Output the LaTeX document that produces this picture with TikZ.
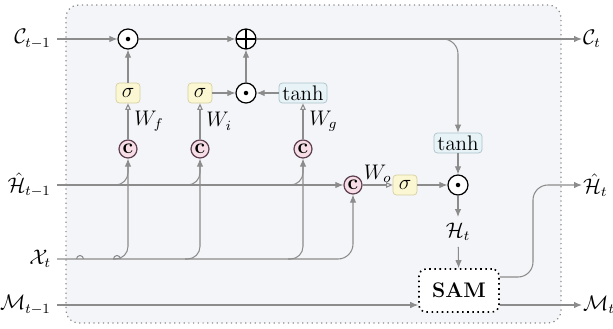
\documentclass[tikz,border=0pt]{standalone}
\usepackage{amsmath}
\usepackage{amssymb}
\usepackage{xcolor}
\usetikzlibrary{arrows.meta}
\usetikzlibrary{calc}

\definecolor{linegray}{HTML}{8C8C8C}
\definecolor{cellbg}{HTML}{F4F5F8}
\definecolor{sigfill}{HTML}{FBF7D2}
\definecolor{sigdraw}{HTML}{D6CFA0}
\definecolor{tanhfill}{HTML}{E7F3F7}
\definecolor{tanhdraw}{HTML}{A9C3CB}
\definecolor{catfill}{HTML}{F6DDE6}
\definecolor{catdraw}{HTML}{5E4050}

\tikzset{
  wire/.style={draw=linegray, line width=0.6pt},
  sigbox/.style={draw=sigdraw, fill=sigfill, rounded corners=2pt,
    minimum width=0.48cm, minimum height=0.4cm, inner sep=1pt, font=\large},
  tanhbox/.style={draw=tanhdraw, fill=tanhfill, rounded corners=2pt,
    minimum width=0.96cm, minimum height=0.4cm, inner sep=1pt, font=\large},
  catnode/.style={circle, draw=catdraw, fill=catfill, line width=0.7pt,
    minimum size=0.36cm, inner sep=0pt, font=\large\bfseries},
  mulnode/.style={circle, draw, fill=white, line width=0.7pt,
    minimum size=0.4cm, inner sep=0pt,
    path picture={\fill[black] (path picture bounding box.center) circle (0.045);}},
  addnode/.style={circle, draw, fill=white, line width=0.7pt,
    minimum size=0.4cm, inner sep=0pt,
    path picture={
      \draw[black] (path picture bounding box.north) -- (path picture bounding box.south);
      \draw[black] (path picture bounding box.west) -- (path picture bounding box.east);}},
}

\begin{document}
\begin{tikzpicture}[
    >={Latex[length=1.6mm,width=1.3mm]},
    openarr/.style={-{Triangle[open,length=1.3mm,width=1.1mm]}},
  ]
    \useasboundingbox (0,0) rectangle (12.26,-6.58);
    \draw[linegray, dotted, line width=0.7pt, fill=cellbg, rounded corners=0.25cm]
      (1.32,-0.10) rectangle (11.22,-6.46);

    % inputs and outputs
    \node[anchor=east, font=\large] (cprev) at (1.14,-0.78) {$\mathcal{C}_{t-1}$};
    \node[anchor=east, font=\large] (hprev) at (1.14,-3.70) {$\hat{\mathcal{H}}_{t-1}$};
    \node[anchor=east, font=\large] (xt) at (1.14,-5.18) {$\mathcal{X}_{t}$};
    \node[anchor=east, font=\large] (mprev) at (1.14,-6.10) {$\mathcal{M}_{t-1}$};
    \node[anchor=west, font=\large, inner sep=0.5pt] (ct) at (11.64,-0.78) {$\mathcal{C}_{t}$};
    \node[anchor=west, font=\large, inner sep=0.5pt] (hhat) at (11.64,-3.70) {$\hat{\mathcal{H}}_{t}$};
    \node[anchor=west, font=\large, inner sep=0.5pt] (mt) at (11.64,-6.10) {$\mathcal{M}_{t}$};

    % gates
    \node[mulnode] (fmul) at (2.56,-0.78) {};
    \node[addnode] (addc) at (4.92,-0.78) {};
    \node[sigbox] (sigf) at (2.56,-1.86) {$\sigma$};
    \node[sigbox] (sigi) at (4.00,-1.86) {$\sigma$};
    \node[mulnode] (imul) at (4.92,-1.86) {};
    \node[tanhbox] (tanhg) at (6.06,-1.86) {$\tanh$};
    \node[catnode] (catf) at (2.56,-2.98) {c};
    \node[catnode] (cati) at (4.00,-2.98) {c};
    \node[catnode] (catg) at (6.06,-2.98) {c};
    \node[tanhbox] (tanhc) at (9.16,-2.86) {$\tanh$};
    \node[catnode] (cato) at (7.06,-3.70) {c};
    \node[sigbox] (sigo) at (8.10,-3.70) {$\sigma$};
    \node[mulnode] (omul) at (9.16,-3.70) {};
    \node[font=\large] (ht) at (9.16,-4.64) {$\mathcal{H}_{t}$};
    \node[draw, dotted, line width=0.9pt, fill=white, rounded corners=4pt,
      minimum width=1.6cm, minimum height=0.86cm, font=\large\bfseries]
      (sam) at (9.18,-5.81) {SAM};

    % cell state
    \draw[wire, ->] (cprev) -- (fmul);
    \draw[wire, ->] (fmul) -- (addc);
    \draw[wire, ->] (addc) -- (ct);
    \draw[wire, ->, rounded corners=0.3cm] (addc) -| (tanhc);
    \draw[wire, ->] (sigf) -- (fmul);
    \draw[wire, ->] (sigi) -- (imul);
    \draw[wire, ->] (tanhg) -- (imul);
    \draw[wire, ->] (imul) -- (addc);

    % weights
    \draw[wire, openarr] (catf) -- (sigf) node[midway, right, font=\large]{$W_f$};
    \draw[wire, openarr] (cati) -- (sigi) node[midway, right, font=\large]{$W_i$};
    \draw[wire, openarr] (catg) -- (tanhg) node[midway, right, font=\large]{$W_g$};
    \draw[wire, openarr] (cato) -- (sigo) node[midway, above, font=\large, inner sep=1pt]{$W_o$};

    % hidden state and input
    \draw[wire, ->] (hprev) -- (cato);
    \draw[wire, ->, rounded corners=0.3cm] (xt) -| (cato);
    \foreach \g in {catf, cati, catg} {
      \draw[wire, ->, rounded corners=0.25cm] ($(\g |- xt)+(-0.3,0)$) -| (\g);
      \draw[wire, rounded corners=0.25cm] ($(\g |- hprev)+(-0.3,0)$) -| ($(\g |- hprev)+(0,0.4)$);
    }
    \draw[wire] (1.53,-5.18) arc (180:0:0.07);
    \draw[wire] (2.27,-5.18) arc (180:0:0.07);

    % output
    \draw[wire, ->] (sigo) -- (omul);
    \draw[wire, ->] (tanhc) -- (omul);
    \draw[wire, ->] (omul) -- (ht);
    \draw[wire, ->] (ht) -- (sam);
    \draw[wire, ->] (mprev) -- (mprev -| sam.west);
    \draw[wire, ->] (mt -| sam.east) -- (mt);
    \draw[wire, ->, rounded corners=0.3cm] ($(sam.east)+(0,0.27)$) -- (10.66,-5.54) |- (hhat);
\end{tikzpicture}
\end{document}
